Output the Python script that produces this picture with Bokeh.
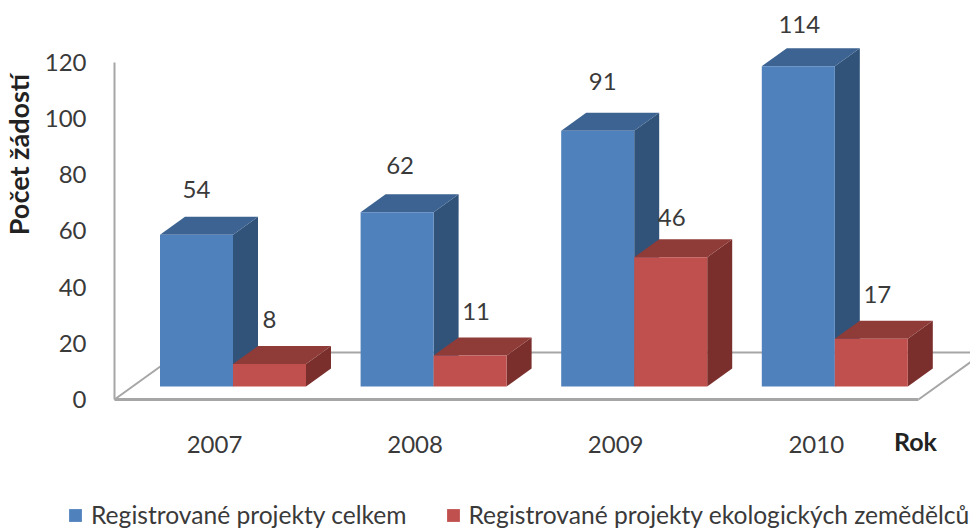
from bokeh.embed import file_html
from bokeh.resources import INLINE
from bokeh.plotting import figure
from bokeh.models import ColumnDataSource, FixedTicker, Label, Legend, LegendItem, LinearAxis
from bokeh.core.properties import value

years = ["2007", "2008", "2009", "2010"]
total = [54, 62, 91, 114]
eco = [8, 11, 46, 17]
y_ticks = [0, 20, 40, 60, 80, 100, 120]
name_total = "Registrované projekty celkem"
name_eco = "Registrované projekty ekologických zemědělců"
y_title = "Počet žádostí"
x_title = "Rok"

FONT = "Lato"
W, H = 970, 529
PX_X, X0 = 200.6, 214
PX_Y, Y0 = 2.81, 399
def dx(px): return (px - X0) / PX_X
def dy(py): return (Y0 - py) / PX_Y

BAR_W = 73 / PX_X
SHIFT = 18.5 / PX_X
DEPTH_X = 25 / PX_X
DEPTH_Y = 18 / PX_Y
BASE = 13 / PX_Y

p = figure(width=W, height=H, output_backend="svg", toolbar_location=None,
           x_range=(dx(0), dx(W)), y_range=(dy(H), dy(0)),
           min_border_left=0, min_border_right=0, min_border_top=0, min_border_bottom=0,
           x_axis_type=None, y_axis_type=None, background_fill_color="white",
           border_fill_color="white", outline_line_color=None)
p.xgrid.visible = False
p.ygrid.visible = False

yax = LinearAxis(ticker=FixedTicker(ticks=y_ticks), bounds=(0, 120), fixed_location=dx(114),
                 axis_line_color="#A6A6A6", axis_line_width=2,
                 major_tick_line_color=None, minor_tick_line_color=None,
                 major_label_text_font=FONT, major_label_text_font_size="24px",
                 major_label_text_color="#3A3A3A", major_label_standoff=22)
p.add_layout(yax, "left")

xax = LinearAxis(ticker=FixedTicker(ticks=list(range(len(years)))),
                 major_label_overrides={i: y for i, y in enumerate(years)},
                 fixed_location=0, bounds=(dx(114), dx(918)),
                 axis_line_color="#A6A6A6", axis_line_width=3,
                 major_tick_line_color=None, minor_tick_line_color=None,
                 major_label_text_font=FONT, major_label_text_font_size="24px",
                 major_label_text_color="#3A3A3A", major_label_standoff=30)
p.add_layout(xax, "below")

floor_back = dy(352)
p.line([dx(114), dx(114) + floor_back / DEPTH_Y * DEPTH_X, dx(980)],
       [0, floor_back, floor_back], line_color="#A6A6A6", line_width=2)
p.line([dx(918), dx(918) + floor_back / DEPTH_Y * DEPTH_X], [0, floor_back],
       line_color="#A6A6A6", line_width=2)

def bar3d(left_edges, vals, front, top, side):
    rights = [l + BAR_W for l in left_edges]
    tops = [v + BASE for v in vals]
    p.patches([[r, r + DEPTH_X, r + DEPTH_X, r] for r in rights],
              [[BASE, BASE + DEPTH_Y, t + DEPTH_Y, t] for t in tops],
              fill_color=side, line_color=None)
    p.patches([[l, l + DEPTH_X, r + DEPTH_X, r] for l, r in zip(left_edges, rights)],
              [[t, t + DEPTH_Y, t + DEPTH_Y, t] for t in tops],
              fill_color=top, line_color=None)
    return p.quad(left=left_edges, right=rights, bottom=BASE, top=tops,
                  fill_color=front, line_color=None)

blue_left = [i + SHIFT - BAR_W for i in range(len(years))]
red_left = [i + SHIFT for i in range(len(years))]
r_total = bar3d(blue_left, total, "#4F81BD", "#3C6391", "#325379")
r_eco = bar3d(red_left, eco, "#C0504D", "#8F3B38", "#7A2F2D")

blue_nudge_x, blue_nudge_y = [0, 3, 5, 1], [-45, -47, -49, -42]
red_nudge_x, red_nudge_y = [0, 6, 1, 6], [-45, -44, -40, -44]
lab = ColumnDataSource(dict(
    x=[l + BAR_W / 2 for l in blue_left + red_left],
    y=[v + BASE for v in total + eco],
    text=[str(v) for v in total + eco],
    xo=blue_nudge_x + red_nudge_x,
    yo=blue_nudge_y + red_nudge_y))
p.text("x", "y", text="text", x_offset="xo", y_offset="yo", source=lab,
       text_font=value(FONT), text_font_size="24px", text_color="#3A3A3A",
       text_align="center", text_baseline="middle")

p.add_layout(Label(x=dx(18), y=dy(154), text=y_title, angle=1.5708, text_font=FONT,
                   text_font_size="27px", text_font_style="bold", text_color="#222222",
                   text_align="center", text_baseline="middle"))
p.add_layout(Label(x=dx(915), y=dy(440), text=x_title, text_font=FONT,
                   text_font_size="25px", text_font_style="bold", text_color="#222222",
                   text_align="center", text_baseline="middle"))

leg = Legend(items=[LegendItem(label=name_total, renderers=[r_total]),
                    LegendItem(label=name_eco, renderers=[r_eco])],
             orientation="horizontal", location=(67, 0),
             background_fill_alpha=0, border_line_color=None, padding=0, margin=0,
             spacing=38, glyph_width=16, glyph_height=16, label_standoff=8,
             label_text_font=FONT, label_text_font_size="24.6px", label_text_color="#3A3A3A")
p.add_layout(leg, "center")

open("out.html", "w").write(file_html(p, INLINE))
